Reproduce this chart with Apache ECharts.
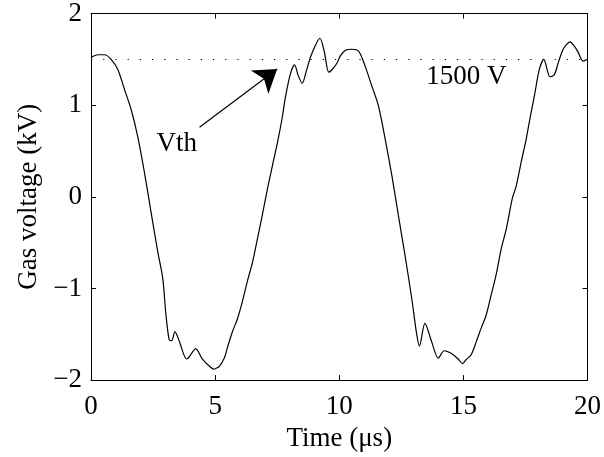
<!DOCTYPE html>
<html>
<head>
<meta charset="utf-8">
<script src="https://cdn.jsdelivr.net/npm/echarts@6/dist/echarts.min.js"></script>
<style>html,body{margin:0;padding:0;background:#fff}#c{width:604px;height:457px}</style>
</head>
<body>
<div id="c"></div>
<script>
var timeUs = [0, 0.28, 0.55, 0.81, 1.08, 1.35, 1.62, 1.88, 2.15, 2.42, 2.69, 2.89, 3.02, 3.15, 3.25, 3.38, 3.55, 3.86, 4.22, 4.49, 4.82, 4.93, 5.05, 5.17, 5.37, 5.5, 5.7, 5.9, 6.1, 6.3, 6.5, 6.71, 6.9, 7.11, 7.3, 7.51, 7.7, 7.84, 8.04, 8.2, 8.35, 8.51, 8.68, 8.85, 9.05, 9.22, 9.4, 9.58, 9.75, 9.91, 10.05, 10.25, 10.51, 10.78, 11.05, 11.31, 11.58, 11.85, 12.12, 12.38, 12.65, 12.92, 13.12, 13.23, 13.45, 13.72, 13.99, 14.23, 14.52, 14.79, 14.97, 15.1, 15.32, 15.52, 15.72, 15.92, 16.12, 16.32, 16.53, 16.73, 16.97, 17.13, 17.33, 17.53, 17.7, 17.86, 18.06, 18.24, 18.49, 18.66, 18.83, 19.0, 19.15, 19.29, 19.45, 19.6, 19.83, 20];
var gasVoltageKV = [1.52, 1.55, 1.55, 1.50, 1.39, 1.17, 0.95, 0.66, 0.27, -0.17, -0.60, -0.89, -1.29, -1.56, -1.57, -1.47, -1.57, -1.77, -1.66, -1.77, -1.86, -1.88, -1.87, -1.85, -1.76, -1.64, -1.47, -1.33, -1.14, -0.92, -0.72, -0.45, -0.20, 0.09, 0.33, 0.59, 0.86, 1.10, 1.35, 1.44, 1.32, 1.24, 1.38, 1.53, 1.66, 1.73, 1.58, 1.36, 1.40, 1.46, 1.54, 1.60, 1.61, 1.59, 1.42, 1.21, 0.99, 0.63, 0.23, -0.20, -0.64, -1.11, -1.50, -1.63, -1.38, -1.58, -1.76, -1.68, -1.71, -1.77, -1.82, -1.78, -1.72, -1.58, -1.43, -1.29, -1.07, -0.85, -0.56, -0.35, -0.02, 0.12, 0.38, 0.63, 0.88, 1.10, 1.39, 1.50, 1.31, 1.33, 1.47, 1.60, 1.66, 1.69, 1.65, 1.59, 1.48, 1.50];
var thresholdKV = 1.5;
var thresholdLabel = '1500 V';
var vthLabel = 'Vth';
var xTicks = [0, 5, 10, 15, 20];
var yTicks = [-2, -1, 0, 1, 2];

var FONT = '"Liberation Serif", "Times New Roman", serif';
var seriesData = timeUs.map(function (t, i) { return [t, gasVoltageKV[i]]; });

function xAx(pos, showLabel) {
  return {
    type: 'value', position: pos, min: xTicks[0], max: xTicks[xTicks.length - 1], interval: 5,
    name: showLabel ? 'Time (\u03bcs)' : '', nameLocation: 'middle', nameGap: 37,
    nameTextStyle: { fontFamily: FONT, fontSize: 27, color: '#000' },
    axisLine: { show: true, onZero: false, lineStyle: { color: '#000', width: 1 } },
    axisTick: { show: true, inside: true, length: 5, lineStyle: { color: '#000' } },
    axisLabel: { show: showLabel, fontFamily: FONT, fontSize: 27, color: '#000', margin: 13 },
    splitLine: { show: false }
  };
}
function yAx(pos, showLabel) {
  return {
    type: 'value', position: pos, min: yTicks[0], max: yTicks[yTicks.length - 1], interval: 1,
    name: showLabel ? 'Gas voltage (kV)' : '', nameLocation: 'middle', nameGap: 49,
    nameTextStyle: { fontFamily: FONT, fontSize: 27, color: '#000' },
    axisLine: { show: true, onZero: false, lineStyle: { color: '#000', width: 1 } },
    axisTick: { show: true, inside: true, length: 5, lineStyle: { color: '#000' } },
    axisLabel: { show: showLabel, fontFamily: FONT, fontSize: 27, color: '#000', margin: 9,
      formatter: function (v) { return v < 0 ? '\u2212' + (-v) : String(v); } },
    splitLine: { show: false }
  };
}

var chart = echarts.init(document.getElementById('c'), null, { renderer: 'canvas' });
chart.setOption({
  animation: false,
  backgroundColor: '#fff',
  grid: { left: 91, right: 14, top: 13.5, bottom: 74.5, containLabel: false },
  xAxis: [xAx('bottom', true), xAx('top', false)],
  yAxis: [yAx('left', true), yAx('right', false)],
  series: [{
    type: 'line', data: seriesData, xAxisIndex: 0, yAxisIndex: 0,
    showSymbol: false, smooth: 0.3,
    lineStyle: { color: '#000', width: 1.2 },
    markLine: {
      silent: true, animation: false,
      data: [
        [{ coord: [xTicks[0], thresholdKV], symbol: 'none' }, { coord: [xTicks[xTicks.length - 1], thresholdKV], symbol: 'none',
          lineStyle: { color: '#000', width: 1.2, type: [1.2, 11] } }],
        [{ coord: [4.37, 0.76], symbol: 'none' }, { coord: [7.5, 1.395], symbol: 'arrow', symbolSize: 22,
          lineStyle: { color: '#000', width: 1.2, type: 'solid' } }]
      ],
      label: { show: false },
      lineStyle: { color: '#000', width: 1.2 }
    },
    markPoint: {
      silent: true, animation: false,
      symbol: 'circle', symbolSize: 0,
      label: { show: true, position: 'inside', fontFamily: FONT, fontSize: 27, color: '#000',
        formatter: function (p) { return p.name; } },
      data: [
        { name: vthLabel, coord: [3.45, 0.575] },
        { name: thresholdLabel, coord: [15.12, 1.31] }
      ]
    }
  }]
});
</script>
</body>
</html>
